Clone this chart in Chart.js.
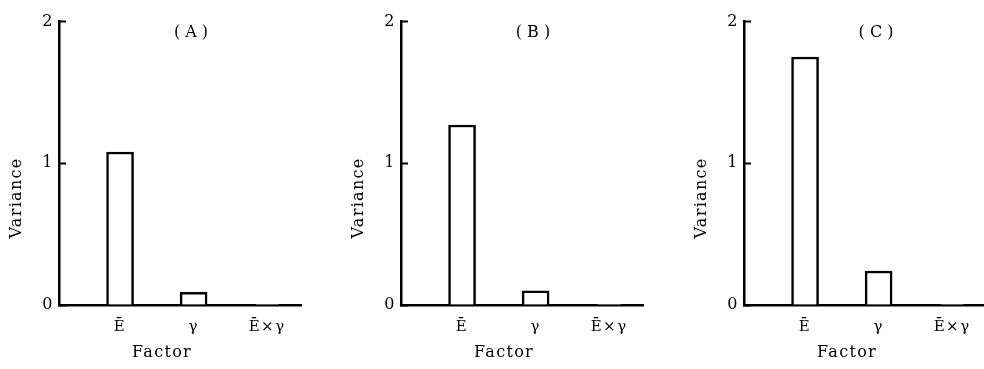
<!DOCTYPE html>
<html>
<head>
<meta charset="utf-8">
<script src="https://cdn.jsdelivr.net/npm/chart.js@4.4.1/dist/chart.umd.min.js"></script>
<style>
  html, body { margin: 0; padding: 0; background: #fff; overflow: hidden; }
  body { width: 984px; height: 369px; position: relative; }
  .panel { position: absolute; top: 0; width: 320px; height: 369px; }
</style>
</head>
<body>
<div class="panel" style="left:0px"><canvas id="chartA"></canvas></div>
<div class="panel" style="left:342px"><canvas id="chartB"></canvas></div>
<div class="panel" style="left:685px"><canvas id="chartC"></canvas></div>
<script>
// factors on the x axis, placed at 1, 2, 3
const factorLabels = ['Ē', 'γ', 'Ē×γ'];
const factorPos = [1, 2, 3];
const varianceTicks = [0, 1, 2];
const panelNames = ['( A )', '( B )', '( C )'];

// variance per factor, one array per panel
const varianceA = [1.08, 0.09, 0.005];
const varianceB = [1.27, 0.10, 0.005];
const varianceC = [1.75, 0.24, 0.005];

const SERIF = '"DejaVu Serif", "Liberation Serif", serif';

// panel tag, axis names; letter spacing for all text
const panelText = {
  id: 'panelText',
  beforeDraw(chart) {
    chart.ctx.letterSpacing = '1.5px';
  },
  afterDraw(chart, args, opts) {
    const { ctx, chartArea } = chart;
    ctx.save();
    ctx.fillStyle = '#000';
    ctx.textAlign = 'center';
    ctx.textBaseline = 'middle';
    ctx.font = `16px ${SERIF}`;
    ctx.letterSpacing = '0px';
    ctx.fillText(opts.name, chartArea.left + 132, chartArea.top + 11);
    ctx.letterSpacing = '1.3px';
    ctx.fillText('Factor', chartArea.left + 103, 353);
    ctx.translate(chartArea.left - 42, 198);
    ctx.rotate(-Math.PI / 2);
    ctx.fillText('Variance', 0, 0);
    ctx.restore();
  }
};

function makePanel(id, name, values) {
  return new Chart(document.getElementById(id), {
    type: 'bar',
    data: {
      datasets: [{
        data: factorPos.map((x, i) => ({ x, y: values[i] })),
        backgroundColor: '#fff',
        borderColor: '#000',
        borderWidth: 2.5,
        borderSkipped: 'bottom',
        barThickness: 27,
      }],
    },
    options: {
      responsive: true,
      maintainAspectRatio: false,
      animation: false,
      layout: { padding: { top: 15, right: 19, left: 0, bottom: 0 } },
      plugins: {
        legend: { display: false },
        tooltip: { enabled: false },
        panelText: { name },
      },
      scales: {
        x: {
          type: 'linear',
          offset: false,
          min: 0.17,
          max: 3.46,
          afterBuildTicks: s => { s.ticks = factorPos.map(v => ({ value: v })); },
          afterFit: s => { s.height = 64; },
          border: { color: '#000', width: 2.5 },
          grid: { drawOnChartArea: false, drawTicks: false },
          ticks: {
            color: '#000',
            padding: 13,
            autoSkip: false,
            maxRotation: 0,
            font: { family: SERIF, size: 15 },
            callback: (v, i) => factorLabels[i],
          },
        },
        y: {
          min: 0,
          max: 2,
          afterBuildTicks: s => { s.ticks = varianceTicks.map(v => ({ value: v })); },
          afterFit: s => { s.width = 59; },
          border: { color: '#000', width: 2.5 },
          grid: { drawOnChartArea: false, tickLength: -7, tickWidth: 2, tickColor: '#000' },
          ticks: {
            color: '#000',
            padding: 12,
            font: { family: SERIF, size: 16 },
          },
        },
      },
    },
    plugins: [panelText],
  });
}

makePanel('chartA', panelNames[0], varianceA);
makePanel('chartB', panelNames[1], varianceB);
makePanel('chartC', panelNames[2], varianceC);
</script>
</body>
</html>
